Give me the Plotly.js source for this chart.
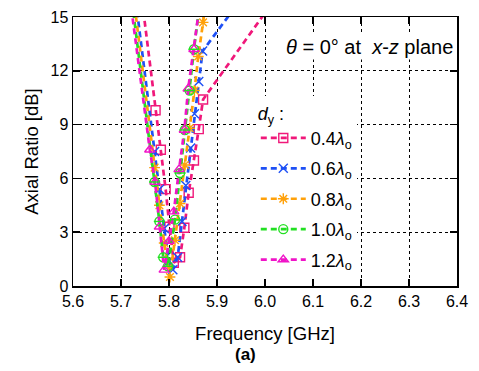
<!DOCTYPE html>
<html>
<head>
<meta charset="utf-8">
<script src="https://cdn.plot.ly/plotly-3.0.1.min.js"></script>
<style>html,body{margin:0;padding:0;background:#fff;}#chart{width:479px;height:371px;}</style>
</head>
<body>
<div id="chart"></div>
<script>
// ---- data ----
const seriesNames = ["0.4<i>λ</i><sub>o</sub>", "0.6<i>λ</i><sub>o</sub>", "0.8<i>λ</i><sub>o</sub>", "1.0<i>λ</i><sub>o</sub>", "1.2<i>λ</i><sub>o</sub>"];

const f04 = [5.70, 5.772, 5.783, 5.793, 5.801, 5.810, 5.823, 5.832, 5.841, 5.852, 5.862, 5.871, 6.05];
const ar04 = [25.3, 9.8, 7.6, 5.4, 3.3, 1.3, 1.6, 3.25, 5.2, 7.0, 8.75, 10.4, 17.1];

const f06 = [5.70, 5.770, 5.780, 5.790, 5.800, 5.808, 5.818, 5.827, 5.835, 5.845, 5.853, 5.862, 5.870, 6.0];
const ar06 = [22.5, 7.5, 5.4, 3.2, 1.4, 0.9, 1.6, 3.6, 5.6, 7.7, 9.6, 11.4, 13.1, 17.8];

const f08 = [5.70, 5.77, 5.78, 5.79, 5.802, 5.8125, 5.823, 5.833, 5.843, 5.853, 5.861, 5.871, 5.88];
const ar08 = [21.7, 6.6, 4.5, 2.4, 0.5, 2.55, 4.6, 6.75, 8.8, 10.9, 12.8, 14.7, 16.6];

const f10 = [5.70, 5.77, 5.78, 5.788, 5.798, 5.8125, 5.823, 5.833, 5.843, 5.852, 5.862];
const ar10 = [20.8, 5.8, 3.6, 1.6, 1.1, 3.7, 6.3, 8.7, 10.9, 13.2, 15.3];

const f12 = [5.70, 5.76, 5.771, 5.78, 5.79, 5.80, 5.81, 5.821, 5.832, 5.840, 5.852, 5.862];
const ar12 = [19.9, 7.6, 5.8, 3.3, 0.9, 2.5, 4.15, 6.5, 8.7, 11.0, 13.2, 15.3];

const xTicks = [5.6, 5.7, 5.8, 5.9, 6.0, 6.1, 6.2, 6.3, 6.4];
const yTicks = [0, 3, 6, 9, 12, 15];

// ---- styles ----
const FONT = "Liberation Sans, Arial, sans-serif";
const colors = ["#F0187A", "#1E50F5", "#FFA10A", "#22E022", "#F014C8"];
const symbols = ["square-open", "x-thin-open", "asterisk-open", "circle-open", "triangle-up-open"];
const xs = [f04, f06, f08, f10, f12];
const ys = [ar04, ar06, ar08, ar10, ar12];

const traces = [];
for (let i = 0; i < 5; i++) {
  traces.push({
    x: xs[i], y: ys[i], type: "scatter", mode: "lines+markers",
    name: seriesNames[i], legendgroup: "g" + i,
    line: {color: colors[i], width: 2.7, dash: "6px,4px"},
    marker: {symbol: symbols[i], size: 9, color: colors[i], line: {color: colors[i], width: 1.4}},
    cliponaxis: true
  });
}
// horizontal bar inside the 1.0 circles
traces.push({
  x: f10, y: ar10, type: "scatter", mode: "markers", showlegend: false,
  marker: {symbol: "line-ew-open", size: 8, color: colors[3], line: {color: colors[3], width: 1.4}},
  cliponaxis: true, hoverinfo: "skip"
});

const axisCommon = {
  showline: true, linecolor: "#000", linewidth: 1.5, mirror: "ticks",
  ticks: "inside", ticklen: 7, tickwidth: 1.5, tickcolor: "#000",
  showgrid: true, gridcolor: "#000", gridwidth: 1, griddash: "dot",
  zeroline: false, tickfont: {family: FONT, size: 16, color: "#000"}
};

const layout = {
  width: 479, height: 371,
  margin: {l: 73, r: 22, t: 17, b: 85},
  paper_bgcolor: "#fff", plot_bgcolor: "#fff",
  font: {family: FONT, color: "#000"},
  showlegend: true,
  xaxis: Object.assign({}, axisCommon, {
    range: [5.6, 6.4], tickvals: xTicks, ticktext: xTicks.map(v => v.toFixed(1)),
    title: {text: "Frequency [GHz]", font: {family: FONT, size: 18.5, color: "#000"}, standoff: 18}
  }),
  yaxis: Object.assign({}, axisCommon, {
    range: [0, 15], tickvals: yTicks,
    title: {text: "Axial Ratio [dB]", font: {family: FONT, size: 18.5, color: "#000"}, standoff: 7}
  }),
  legend: {
    x: 0.476, y: 0.705, xanchor: "left", yanchor: "top",
    bgcolor: "#fff", borderwidth: 0, tracegroupgap: 4, itemwidth: 45,
    font: {family: FONT, size: 18, color: "#000"},
    title: {text: "<i>d</i><sub>y</sub> :", font: {family: FONT, size: 18, color: "#000"}}
  },
  annotations: [
    {xref: "paper", yref: "paper", x: 0.995, y: 0.888, xanchor: "right", yanchor: "middle",
     text: "<i>θ</i> = 0° at&nbsp; <i>x</i>-<i>z</i> plane", showarrow: false, bgcolor: "#fff",
     font: {family: FONT, size: 20, color: "#000"}},
    {xref: "paper", yref: "paper", x: 0.45, y: -0.256, xanchor: "center", yanchor: "middle",
     text: "<b>(a)</b>", showarrow: false, font: {family: FONT, size: 17, color: "#000"}}
  ]
};

Plotly.newPlot("chart", traces, layout, {displayModeBar: false, staticPlot: true});
</script>
</body>
</html>
